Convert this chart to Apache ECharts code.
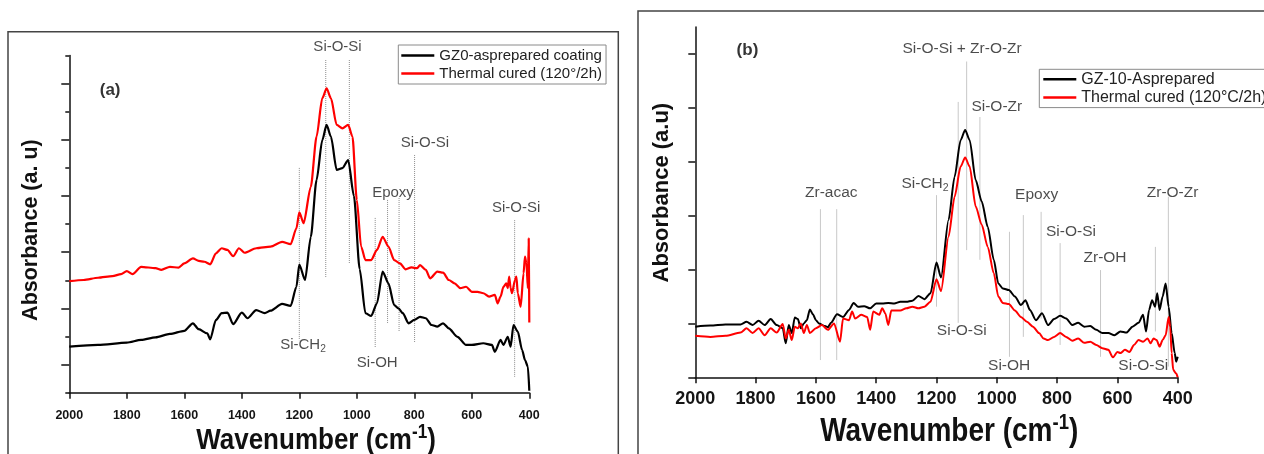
<!DOCTYPE html>
<html>
<head>
<meta charset="utf-8">
<script src="https://cdn.jsdelivr.net/npm/echarts@6/dist/echarts.min.js"></script>
<style>
html,body{margin:0;padding:0;background:#fff;}
#chart{width:1264px;height:454px;}
</style>
</head>
<body>
<div id="chart"></div>
<script>
// ---------- Panel (a) data ----------
const xTicks = [2000, 1800, 1600, 1400, 1200, 1000, 800, 600, 400];

const aBlackWn = [2000,1900,1800,1750,1700,1650,1600,1570,1550,1520,1510,1490,1470,1450,1430,1400,1380,1350,1320,1300,1260,1230,1210,1200,1180,1160,1140,1120,1105,1090,1070,1050,1030,1010,990,970,950,930,910,890,870,855,840,820,800,780,760,740,720,700,680,650,620,600,560,530,520,500,490,475,465,455,440,425,415,405,400];
const aBlack = [1.64,1.70,1.78,1.88,1.97,2.09,2.20,2.47,2.26,2.11,1.90,2.59,2.83,2.85,2.44,2.85,2.65,2.94,2.83,2.92,3.16,3.09,3.77,4.56,4.01,5.55,7.57,8.99,9.53,9.11,7.93,7.99,8.28,7.0,4.4,2.83,2.73,3.18,4.31,3.89,3.12,3.00,2.83,2.47,2.59,2.70,2.65,2.41,2.35,2.47,2.29,1.99,1.70,1.70,1.76,1.70,1.46,1.88,1.70,1.99,1.64,2.41,2.17,1.52,1.16,0.93,0.07];

const aRedWn = [2000,1950,1900,1850,1820,1800,1780,1750,1700,1680,1650,1620,1600,1570,1550,1530,1510,1490,1470,1450,1430,1410,1390,1350,1300,1260,1230,1210,1200,1185,1160,1140,1120,1105,1090,1070,1050,1030,1015,1000,985,970,950,930,910,890,870,850,830,810,790,780,760,745,720,700,680,660,640,620,600,580,560,540,520,510,500,490,480,475,470,465,460,450,445,440,430,420,415,410,405,402,400];
const aRed = [3.97,4.01,4.09,4.15,4.22,4.33,4.22,4.48,4.43,4.37,4.48,4.45,4.60,4.78,4.69,4.66,4.57,4.96,5.14,5.08,4.86,5.14,4.98,5.14,5.20,5.37,5.29,5.85,6.42,6.03,7.33,9.11,10.48,10.83,10.48,9.53,9.41,9.53,9.11,6.86,5.20,4.72,4.72,5.08,5.55,5.20,4.72,4.60,4.39,4.46,4.43,4.54,4.37,4.07,4.31,4.27,4.01,3.89,3.72,3.77,3.59,3.59,3.54,3.42,3.48,3.18,3.42,3.77,3.89,3.72,4.13,3.72,3.54,4.01,4.13,3.54,3.06,4.25,4.84,4.60,3.72,5.49,2.50];

const aNames = ['GZ0-asprepared coating', 'Thermal cured (120°/2h)'];

const annAText = ['(a)','Si-O-Si','Epoxy','Si-O-Si','Si-O-Si','Si-CH2','Si-OH'];
const annAWn = [1858,1067,874,763,446,1187,929];
const annAVal = [10.77,12.30,7.12,8.90,6.57,1.70,1.05];

const guideAWn = [1200,1108,1026,936,893,853,799,451];
const guideATop = [8.0,11.84,11.84,6.22,6.86,6.93,8.46,6.14];
const guideABot = [1.87,4.08,4.62,1.63,2.48,2.16,1.77,0.56];

// ---------- Panel (b) data ----------
const bBlackWn = [2000,1950,1900,1850,1830,1810,1790,1770,1750,1730,1710,1700,1690,1680,1670,1660,1650,1640,1630,1620,1610,1600,1590,1570,1560,1550,1530,1510,1490,1475,1460,1440,1420,1400,1380,1360,1340,1320,1300,1280,1260,1240,1220,1200,1185,1160,1140,1120,1105,1090,1070,1050,1030,1010,995,980,960,940,920,905,890,870,850,830,810,790,770,750,730,710,690,670,650,630,610,590,570,550,530,515,505,495,485,475,468,460,450,440,430,420,410,405,400];
const bBlack = [0.94,0.96,0.98,0.98,1.03,0.97,1.05,0.97,1.08,0.97,0.91,0.63,0.97,0.82,1.11,1.08,0.91,1.00,1.06,1.26,1.17,1.06,1.00,0.95,0.93,1.01,1.17,1.12,1.25,1.38,1.31,1.32,1.28,1.37,1.37,1.38,1.37,1.40,1.40,1.42,1.51,1.45,1.56,2.13,1.85,2.92,3.72,4.40,4.59,4.40,3.66,3.26,2.79,2.18,1.74,1.65,1.62,1.50,1.34,1.43,1.25,1.06,1.19,0.97,1.08,1.14,1.09,0.97,1.01,0.94,0.95,0.88,0.82,0.82,0.78,0.85,0.83,0.94,1.01,1.16,0.85,1.25,1.43,1.31,1.56,1.25,1.50,1.74,1.31,0.82,0.45,0.29,0.38];

const bRedWn = [2000,1950,1900,1850,1830,1810,1790,1770,1750,1730,1710,1700,1690,1680,1670,1660,1650,1640,1630,1620,1600,1580,1560,1540,1520,1510,1490,1480,1470,1450,1430,1420,1410,1390,1380,1370,1360,1350,1320,1300,1280,1260,1240,1220,1200,1185,1160,1140,1120,1105,1090,1070,1050,1030,1010,995,980,960,940,920,900,880,860,845,830,810,790,770,750,730,710,690,670,650,630,615,600,590,575,560,545,530,515,500,490,480,470,460,450,440,430,425,420,415,405,400];
const bRed = [0.77,0.75,0.77,0.83,0.91,0.82,0.91,0.78,0.91,0.83,0.99,0.72,0.88,0.69,0.94,0.91,1.00,0.82,0.97,0.82,0.91,0.97,0.88,1.00,0.66,1.09,1.06,1.22,1.09,1.16,1.12,0.88,1.22,1.16,1.28,1.19,0.97,1.24,1.24,1.28,1.31,1.28,1.31,1.40,1.82,1.60,2.61,3.35,3.91,4.08,3.91,3.17,2.83,2.42,1.93,1.50,1.38,1.36,1.24,1.12,1.03,0.94,0.82,0.72,0.69,0.75,0.82,0.75,0.68,0.72,0.64,0.66,0.60,0.54,0.51,0.37,0.47,0.45,0.51,0.47,0.60,0.69,0.66,0.72,0.63,0.72,0.69,0.57,0.69,0.78,1.12,0.94,0.45,0.14,0.07,0.0];

const bNames = ['GZ-10-Asprepared', 'Thermal cured (120°C/2h)'];

const annBText = ['(b)','Si-O-Si + Zr-O-Zr','Si-O-Zr','Zr-acac','Si-CH2','Si-O-Si','Epoxy','Si-O-Si','Zr-OH','Zr-O-Zr','Si-OH','Si-O-Si'];
const annBWn = [1827,1115,1000,1549,1238,1116,868,754,641,417,959,514];
const annBVal = [6.07,6.09,5.03,3.43,3.60,0.86,3.38,2.71,2.22,3.43,0.21,0.21];

const guideBWn = [1585,1531,1200,1128,1100,1056,958,912,853,790,656,474,431];
const guideBTop = [3.12,3.12,3.38,5.11,5.86,4.83,2.70,3.01,3.07,2.49,1.99,2.42,3.35];
const guideBBot = [0.32,0.32,1.31,1.01,2.36,2.18,0.38,0.75,1.09,0.60,0.38,0.85,0.20];

const bYTicks = [0,1,2,3,4,5,6];

// ---------- build ----------
const FONT = '"Liberation Sans", Arial, Helvetica, sans-serif';
const TXT = '#1e1e1e';
function pairs(xs, ys) { return xs.map((x, i) => [x, ys[i]]); }

function guideSeries(idx, wns, tops, bots, style) {
  return wns.map((w, i) => ({
    type: 'line', xAxisIndex: idx, yAxisIndex: idx, silent: true, z: 1,
    symbol: 'none', data: [[w, tops[i]], [w, bots[i]]],
    lineStyle: style, clip: false
  }));
}

function labelFormatter(p) {
  const t = p.name;
  if (t === '(a)' || t === '(b)') return '{b|' + t + '}';
  if (t === 'Si-CH2') return '{n|Si-CH}{s|2}';
  return '{n|' + t + '}';
}

function annSeries(idx, texts, wns, vals, size) {
  return {
    type: 'scatter', xAxisIndex: idx, yAxisIndex: idx, silent: true, z: 5,
    symbolSize: 0, clip: false,
    data: texts.map((t, i) => ({ name: t, value: [wns[i], vals[i]] })),
    label: {
      show: true, position: 'inside', formatter: labelFormatter,
      color: TXT, textBorderWidth: 0,
      rich: {
        n: { fontSize: size, fontFamily: FONT, color: TXT, textBorderWidth: 0 },
        s: { fontSize: size * 0.68, fontFamily: FONT, color: TXT, textBorderWidth: 0, padding: [9, 0, 0, 0] },
        b: { fontSize: 17, fontFamily: FONT, fontWeight: 'bold', color: '#000', textBorderWidth: 0 }
      }
    }
  };
}

function xAxis(idx, labelSize, labelMargin) {
  return {
    gridIndex: idx, type: 'value', min: 400, max: 2000, interval: 200, inverse: true,
    axisLine: { show: true, onZero: false, lineStyle: { color: '#111', width: 1.5 } },
    axisTick: { show: true, length: 6, lineStyle: { color: '#111', width: 1.5 } },
    splitLine: { show: false },
    axisLabel: { show: true, fontSize: labelSize, fontWeight: 'bold', fontFamily: FONT, color: '#151515', margin: labelMargin,
      formatter: v => String(v) }
  };
}

function xTitle(cx, cy, size) {
  return {
    type: 'text', silent: true, x: cx, y: cy, scaleY: 1.16,
    style: {
      text: '{n|Wavenumber (cm}{s|-1}{n|)}',
      align: 'center', verticalAlign: 'middle',
      rich: {
        n: { fontSize: size, fontWeight: 'bold', fontFamily: FONT, fill: '#111' },
        s: { fontSize: size * 0.66, fontWeight: 'bold', fontFamily: FONT, fill: '#111', padding: [0, 0, size * 0.55, 0] }
      }
    }
  };
}

function curve(name, idx, xs, ys, color, width) {
  return { name: name, type: 'line', xAxisIndex: idx, yAxisIndex: idx, symbol: 'none', showSymbol: false, z: 3,
    smooth: 0.25, smoothMonotone: 'x',
    data: pairs(xs, ys), lineStyle: { color: color, width: width }, itemStyle: { color: color } };
}

const chart = echarts.init(document.getElementById('chart'), null, { renderer: 'canvas' });

const option = {
  animation: false,
  backgroundColor: '#fff',
  graphic: [
    { type: 'rect', silent: true, z: -10, shape: { x: 8, y: 31.7, width: 610.3, height: 470 }, style: { fill: 'none', stroke: '#444', lineWidth: 1.5 } },
    { type: 'rect', silent: true, z: -10, shape: { x: 638, y: 11, width: 700, height: 500 }, style: { fill: 'none', stroke: '#444', lineWidth: 1.5 } },
    xTitle(316, 441, 26),
    xTitle(949.2, 432, 28)
  ],
  grid: [
    { left: 69.3, top: 55.5, width: 460, height: 337.2, containLabel: false },
    { left: 695.3, top: 27, width: 482.4, height: 350.3, containLabel: false }
  ],
  xAxis: [
    xAxis(0, 12.5, 16),
    xAxis(1, 18, 13)
  ],
  yAxis: [
    {
      gridIndex: 0, type: 'value', min: 0, max: 12, interval: 2,
      axisLine: { show: true, onZero: false, lineStyle: { color: '#111', width: 1.5 } },
      axisTick: { show: true, length: 4, lineStyle: { color: '#111', width: 1.5 } },
      minorTick: { show: true, splitNumber: 2, length: 8, lineStyle: { color: '#111', width: 1.5 } },
      axisLabel: { show: false }, splitLine: { show: false }, minorSplitLine: { show: false },
      name: 'Absorbance (a. u)', nameLocation: 'middle', nameGap: 27,
      nameTextStyle: { fontSize: 21.5, fontWeight: 'bold', fontFamily: FONT, color: '#111', padding: [0, 12, 0, 0] }
    },
    {
      gridIndex: 1, type: 'value', min: 0, max: 6.5, interval: 1,
      axisLine: { show: true, onZero: false, lineStyle: { color: '#111', width: 1.5 } },
      axisTick: { show: true, length: 7, customValues: bYTicks, lineStyle: { color: '#111', width: 1.5 } },
      axisLabel: { show: false }, splitLine: { show: false },
      name: 'Absorbance (a.u)', nameLocation: 'middle', nameGap: 22,
      nameTextStyle: { fontSize: 22, fontWeight: 'bold', fontFamily: FONT, color: '#111', padding: [0, 0, 0, 19] }
    }
  ],
  legend: [
    {
      data: aNames, orient: 'vertical', left: 398.3, top: 45, icon: 'rect',
      itemWidth: 33, itemHeight: 2.5, itemGap: 3,
      padding: [3, 4, 3, 3], borderColor: '#8a8a8a', borderWidth: 1,
      textStyle: { fontSize: 15, fontFamily: FONT, color: '#222', lineHeight: 15 },
      selectedMode: false
    },
    {
      data: bNames, orient: 'vertical', left: 1039.3, top: 69.3, icon: 'rect',
      itemWidth: 33, itemHeight: 2.5, itemGap: 2.3,
      padding: [2, 2, 2, 4], borderColor: '#8a8a8a', borderWidth: 1,
      textStyle: { fontSize: 16, fontFamily: FONT, color: '#222', lineHeight: 16 },
      selectedMode: false
    }
  ],
  series: [
    ...guideSeries(0, guideAWn, guideATop, guideABot, { type: 'dotted', color: '#8c8c8c', width: 1 }),
    ...guideSeries(1, guideBWn, guideBTop, guideBBot, { type: 'solid', color: '#c8c8c8', width: 1 }),
    curve(aNames[0], 0, aBlackWn, aBlack, '#000', 2.2),
    curve(aNames[1], 0, aRedWn, aRed, '#ff0000', 2.2),
    curve(bNames[0], 1, bBlackWn, bBlack, '#000', 2),
    curve(bNames[1], 1, bRedWn, bRed, '#ff0000', 2),
    annSeries(0, annAText, annAWn, annAVal, 15),
    annSeries(1, annBText, annBWn, annBVal, 15.5)
  ]
};
chart.setOption(option);
</script>
</body>
</html>
